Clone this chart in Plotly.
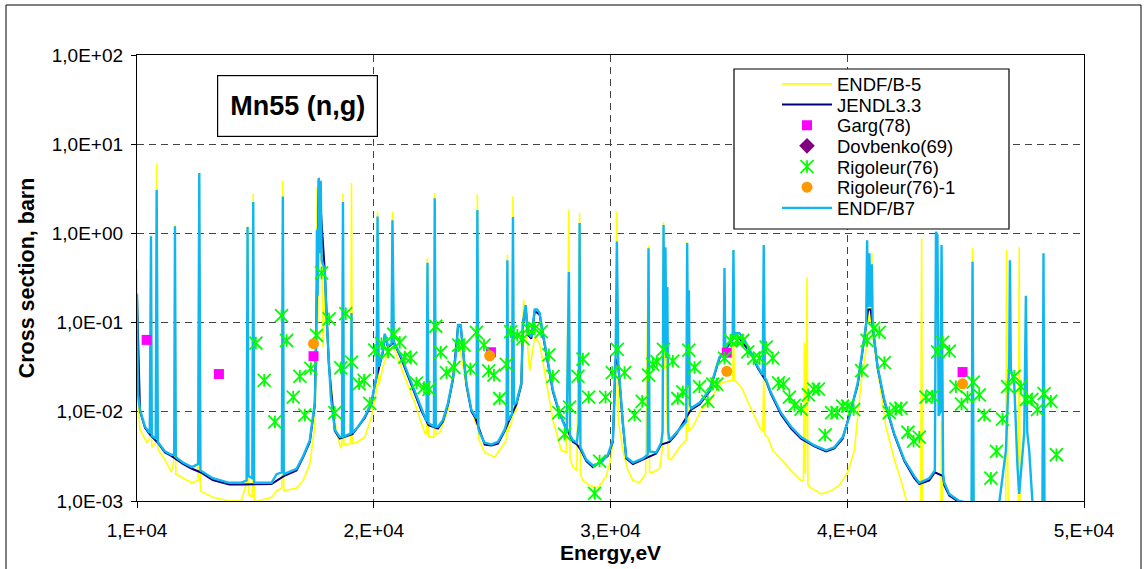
import plotly.graph_objects as go

# ---------------------------------------------------------------------------
# Mn-55 radiative capture cross section, 10-50 keV (energy in eV, sigma in barn)
# ---------------------------------------------------------------------------

# ENDF/B-5 evaluation
e_b5 = [10000, 10040, 10127, 10420, 10548, 10591, 10625, 10790, 10831, 10880,
        11180, 11450, 11570, 11604, 11640, 11940, 12320, 12580, 12630, 12680,
        13200, 13900, 14400, 14630, 14670, 14710, 14870, 14910, 14950, 15680,
        15900, 16120, 16160, 16200, 16740, 17020, 17300, 17510, 17570, 17610,
        17640, 17680, 17710, 17760, 17800, 17860, 17934, 18073, 18217, 18427,
        18609, 18660, 18700, 18740, 19020, 19060, 19100, 19270, 19622, 19904,
        20115, 20160, 20210, 20390, 20600, 20750, 20790, 20850, 21310, 21732,
        22154, 22230, 22270, 22310, 22540, 22576, 22620, 22787, 23137, 23419,
        23559, 23702, 23983, 24265, 24340, 24377, 24420, 24686, 25108, 25530,
        25610, 25644, 25680, 25840, 25880, 25920, 26023, 26234, 26331, 26585,
        26796, 27007, 27289, 27568, 27920, 28133, 28243, 28290, 28412, 28580,
        28695, 28730, 28836, 29117, 29469, 29821, 30032, 30215, 30270, 30330,
        30520, 30735, 30945, 31227, 31480, 31606, 31650, 31788, 32071, 32200,
        32240, 32280, 32330, 32380, 32440, 32563, 32915, 33197, 33239, 33280,
        33478, 33830, 34181, 34392, 34673, 35166, 35193, 35230, 35517, 35941,
        36290, 36430, 36473, 36520, 36642, 36853, 37207, 37629, 38051, 38150,
        38190, 38230, 38300, 38340, 38471, 38893, 39315, 39667, 40019, 40301,
        40582, 40793, 40838, 40880, 40935, 40990, 41040, 41074, 41144, 41355,
        41637, 41990, 42270, 42551, 43100, 43141, 43180, 43950, 43984, 44040,
        45250, 45292, 45340, 46690, 46729, 46770, 46800, 47220, 47263, 47300,
        48200, 48245, 48290, 48600]
xs_b5 = [0.39, 0.0136, 0.0063, 0.0045, 0.0052, 0.95, 0.004, 0.0045, 6.0, 0.0038,
         0.0029, 0.0021, 0.003, 1.26, 0.002, 0.0018, 0.0016, 0.0017, 4.75, 0.0013,
         0.0011, 0.001, 0.001, 0.0016, 1.2, 0.0012, 0.0011, 2.77, 0.00097, 0.0011,
         0.0013, 0.0014, 3.9, 0.0013, 0.0014, 0.0017, 0.0026, 0.0068, 0.03, 3.3,
         0.1, 4.0, 0.4, 3.3, 0.3, 0.053, 0.23, 0.049, 0.0175, 0.0058,
         0.0039, 0.0042, 2.8, 0.0043, 0.0044, 3.67, 0.0044, 0.0045, 0.0052, 0.0088,
         0.0175, 1.74, 0.02, 0.032, 0.046, 0.05, 1.74, 0.052, 0.0245, 0.0126,
         0.0058, 0.0056, 0.53, 0.0053, 0.0052, 2.84, 0.0056, 0.0058, 0.0105, 0.035,
         0.069, 0.041, 0.0147, 0.0081, 0.007, 2.74, 0.005, 0.0035, 0.0031, 0.0045,
         0.005, 0.58, 0.006, 0.008, 2.6, 0.0095, 0.0105, 0.0245, 0.18, 0.029,
         0.069, 0.059, 0.0228, 0.0081, 0.0037, 0.0035, 1.83, 0.003, 0.0024, 0.0022,
         1.68, 0.002, 0.0017, 0.0015, 0.0014, 0.0019, 0.0031, 0.012, 1.75, 0.008,
         0.0037, 0.0022, 0.0017, 0.0016, 0.002, 0.72, 0.0021, 0.0021, 0.0023, 0.004,
         1.33, 0.03, 0.42, 0.01, 0.003, 0.0029, 0.004, 0.0048, 0.8, 0.006,
         0.0068, 0.0105, 0.0126, 0.0163, 0.021, 0.0228, 0.08, 0.0228, 0.019, 0.011,
         0.0068, 0.006, 0.0245, 0.0055, 0.0052, 0.0037, 0.0029, 0.0022, 0.0017, 0.0017,
         0.06, 0.002, 0.32, 0.0015, 0.0014, 0.0012, 0.0013, 0.0015, 0.0021, 0.0037,
         0.021, 0.049, 0.6, 0.1, 0.4, 0.1, 0.6, 0.08, 0.053, 0.021,
         0.0068, 0.0029, 0.0017, 0.0009, 0.0005, 0.88, 0.0005, 0.0005, 0.008, 0.0005,
         0.0005, 0.68, 0.0005, 0.0005, 0.65, 0.005, 0.0009, 0.0005, 0.70, 0.0005,
         0.0005, 0.0088, 0.0005, 0.0004]

# JENDL-3.3 evaluation (smooth part between resonances)
e_jendl = [10000, 10127, 10338, 10540, 10880, 11180, 11450, 11940, 12320, 12680,
           13200, 13900, 14400, 14950, 15680, 16200, 16740, 17020, 17300, 17510,
           17680, 17934, 18102, 18356, 18567, 19100, 19620, 19900, 20040, 20390,
           20466, 20600, 20850, 21170, 21590, 22010, 22310, 22715, 22926, 23137,
           23348, 23560, 23673, 23913, 24124, 24293, 24686, 24969, 25247, 25530,
           26023, 26234, 26300, 26416, 26513, 26656, 26800, 27007, 27146, 27357,
           27568, 27851, 28412, 28580, 28730, 28978, 29257, 29890, 30101, 30215,
           30330, 30523, 30666, 30945, 31931, 32142, 32493, 32775, 33408, 33759,
           34181, 34603, 35307, 35941, 36219, 36574, 36785, 37207, 37629, 38051,
           38613, 39107, 39456, 39808, 40441, 40724, 40880, 40990, 41144, 41283,
           41566, 41988, 42410, 42832, 43043, 43465, 43700, 44050, 44098, 44309,
           44731]
xs_jendl = [0.2, 0.0102, 0.0066, 0.0056, 0.0045, 0.0035, 0.0032, 0.0026, 0.0023, 0.0021,
            0.00172, 0.00153, 0.00153, 0.00155, 0.00155, 0.0019, 0.0022, 0.0031, 0.0046, 0.012,
            4.0, 0.37, 0.034, 0.0061, 0.005, 0.0056, 0.0085, 0.0122, 0.02, 0.047,
            0.072, 0.053, 0.06, 0.039, 0.0198, 0.0103, 0.0071, 0.0065, 0.0078, 0.0121,
            0.023, 0.091, 0.091, 0.02, 0.0101, 0.0085, 0.0043, 0.0042, 0.0044, 0.0061,
            0.0121, 0.02, 0.095, 0.15, 0.073, 0.066, 0.135, 0.123, 0.073, 0.034,
            0.0168, 0.0094, 0.0046, 0.0043, 0.0038, 0.0028, 0.0024, 0.0032, 0.0046, 0.039,
            0.033, 0.0072, 0.003, 0.0026, 0.0034, 0.0043, 0.0046, 0.0056, 0.0106, 0.0121,
            0.0169, 0.04, 0.074, 0.045, 0.031, 0.022, 0.0157, 0.0093, 0.0065, 0.005,
            0.0041, 0.0036, 0.0039, 0.005, 0.02, 0.067, 0.14, 0.14, 0.062, 0.031,
            0.0131, 0.0055, 0.0028, 0.0018, 0.00155, 0.0017, 0.0021, 0.0019, 0.0015, 0.00115,
            0.00097]

# ENDF/B-VII evaluation
e_b7 = [10000, 10040, 10127, 10338, 10540, 10591, 10625, 10790, 10831, 10880,
        11180, 11450, 11570, 11604, 11640, 11940, 12320, 12580, 12630, 12680,
        13200, 13900, 14400, 14630, 14670, 14710, 14870, 14910, 14950, 15680,
        15900, 16120, 16160, 16200, 16740, 17020, 17300, 17510, 17570, 17600,
        17630, 17680, 17710, 17760, 17800, 17860, 17934, 18005, 18102, 18187,
        18356, 18567, 18660, 18700, 18740, 19020, 19060, 19100, 19340, 19620,
        19900, 20040, 20120, 20160, 20210, 20390, 20466, 20600, 20750, 20790,
        20850, 21170, 21590, 22010, 22230, 22270, 22310, 22540, 22576, 22620,
        22715, 22926, 23137, 23348, 23492, 23560, 23673, 23770, 23913, 24124,
        24293, 24340, 24377, 24420, 24475, 24686, 24969, 25247, 25530, 25610,
        25644, 25680, 25840, 25880, 25920, 26023, 26234, 26300, 26416, 26513,
        26656, 26800, 26900, 27007, 27146, 27357, 27568, 27851, 28150, 28243,
        28290, 28412, 28580, 28665, 28695, 28730, 28978, 29257, 29611, 29890,
        30101, 30215, 30270, 30330, 30523, 30666, 30945, 31367, 31570, 31606,
        31650, 31931, 32142, 32200, 32240, 32280, 32320, 32360, 32400, 32440,
        32493, 32775, 33126, 33200, 33239, 33280, 33310, 33350, 33408, 33759,
        34181, 34603, 34780, 34814, 34850, 34953, 35160, 35193, 35230, 35307,
        35447, 35658, 35941, 36219, 36430, 36473, 36520, 36574, 36785, 37207,
        37629, 38051, 38613, 39107, 39456, 39808, 40091, 40441, 40724, 40800,
        40838, 40880, 40935, 40990, 41040, 41074, 41144, 41283, 41566, 41988,
        42410, 42832, 43043, 43465, 43700, 43748, 43810, 43860, 43930, 43984,
        44050, 44098, 44309, 44731, 45153, 45250, 45292, 45340, 46419, 46702,
        46841, 46871, 46910, 47052, 47191, 47263, 47474, 47546, 47600, 47685,
        47825, 48179, 48250, 48289, 48330, 48390, 48600]
xs_b7 = [0.21, 0.016, 0.0105, 0.0068, 0.0058, 0.93, 0.0054, 0.005, 3.07, 0.0046,
         0.0036, 0.0033, 0.0033, 1.2, 0.0031, 0.0027, 0.0024, 0.0026, 4.75, 0.0022,
         0.0018, 0.0016, 0.0016, 0.0017, 1.18, 0.0019, 0.0018, 2.25, 0.0016, 0.0016,
         0.002, 0.0021, 2.6, 0.002, 0.0023, 0.0032, 0.0048, 0.0127, 0.06, 1.1,
         0.2, 4.2, 0.6, 3.9, 0.5, 0.45, 0.39, 0.116, 0.035, 0.0147,
         0.0063, 0.0052, 0.0052, 2.25, 0.0053, 0.0057, 0.128, 0.0058, 0.0068, 0.0088,
         0.0126, 0.021, 0.025, 1.55, 0.032, 0.049, 0.075, 0.055, 0.058, 1.4,
         0.061, 0.041, 0.021, 0.011, 0.0078, 0.47, 0.0075, 0.0068, 2.47, 0.0068,
         0.0068, 0.0081, 0.0126, 0.024, 0.049, 0.094, 0.094, 0.049, 0.021, 0.0105,
         0.0088, 0.0085, 1.83, 0.0065, 0.0058, 0.0045, 0.0043, 0.0046, 0.0063, 0.0075,
         0.5, 0.008, 0.0095, 1.53, 0.012, 0.0126, 0.021, 0.099, 0.157, 0.076,
         0.069, 0.14, 0.14, 0.128, 0.076, 0.035, 0.0175, 0.0097, 0.006, 0.37,
         0.0055, 0.0048, 0.0045, 0.0075, 1.31, 0.004, 0.0029, 0.0025, 0.0027, 0.0033,
         0.0048, 0.041, 0.81, 0.035, 0.0075, 0.0031, 0.0027, 0.003, 0.0033, 0.68,
         0.0036, 0.0035, 0.0045, 0.006, 1.24, 0.05, 0.7, 0.04, 0.25, 0.006,
         0.0048, 0.0058, 0.0075, 0.0078, 0.78, 0.02, 0.23, 0.012, 0.011, 0.0126,
         0.0175, 0.041, 0.045, 0.41, 0.05, 0.058, 0.065, 0.65, 0.07, 0.076,
         0.076, 0.064, 0.046, 0.032, 0.026, 0.74, 0.024, 0.0228, 0.0163, 0.0097,
         0.0068, 0.0052, 0.0042, 0.0037, 0.004, 0.0052, 0.0088, 0.021, 0.069, 0.1,
         0.84, 0.15, 0.6, 0.15, 0.45, 0.1, 0.064, 0.032, 0.0136, 0.0057,
         0.0029, 0.0019, 0.0016, 0.0018, 0.0022, 1.04, 0.95, 0.009, 0.01, 0.74,
         0.002, 0.0016, 0.0012, 0.001, 0.00095, 0.0009, 0.48, 0.0009, 0.00095, 0.0037,
         0.035, 0.5, 0.03, 0.021, 0.0024, 0.0012, 0.0058, 0.2, 0.006, 0.0037,
         0.00095, 0.00095, 0.001, 0.6, 0.001, 0.0008, 0.0005]

# Garg (1978)
e_garg = [10408, 13460, 17457, 24950, 34912, 44870]
xs_garg = [0.064, 0.0265, 0.042, 0.0465, 0.046, 0.0279]

# Dovbenko (1969): no measured point falls inside 10-50 keV
e_dovbenko = [None]
xs_dovbenko = [None]

# Rigoleur (1976)
e_rig = [15022, 15372, 15824, 16106, 16317, 16597, 16879, 17090, 17343, 17583,
         17794, 18115, 18356, 18609, 18820, 19060, 19381, 19592, 19833, 20044,
         20326, 20605, 20845, 21099, 21310, 21563, 21803, 22124, 22335, 22618,
         22829, 23070, 23390, 23588, 23812, 24082, 24335, 24656, 24854, 25078,
         25319, 25601, 25783, 26065, 26302, 26513, 26796, 27078, 27399, 27568,
         27821, 28062, 28273, 28623, 28835, 29074, 29328, 29539, 29792, 30075,
         30286, 30594, 31016, 31340, 31606, 31788, 31957, 32239, 32632, 32843,
         33055, 33308, 33548, 33759, 34110, 34321, 34490, 34814, 35067, 35349,
         35586, 35797, 36051, 36291, 36574, 36853, 37094, 37303, 37557, 37768,
         38051, 38358, 38582, 38780, 39063, 39343, 39569, 39808, 40019, 40272,
         40610, 40838, 41116, 41355, 41566, 41777, 42059, 42270, 42560, 42800,
         43043, 43325, 43605, 43816, 44027, 44309, 44591, 44828, 45081, 45321,
         45575, 45786, 46068, 46305, 46558, 46771, 47052, 47334, 47571, 47797,
         48033, 48316, 48599, 48835]
xs_rig = [0.059, 0.0225, 0.0077, 0.12, 0.063, 0.0146, 0.025, 0.0092, 0.0306, 0.072,
          0.36, 0.11, 0.0098, 0.031, 0.126, 0.036, 0.0206, 0.0225, 0.0124, 0.049,
          0.058, 0.047, 0.074, 0.06, 0.041, 0.04, 0.021, 0.0187, 0.0178, 0.091,
          0.0465, 0.0275, 0.0314, 0.056, 0.056, 0.0302, 0.0775, 0.056, 0.0287, 0.0258,
          0.0141, 0.034, 0.079, 0.072, 0.066, 0.086, 0.086, 0.079, 0.0435, 0.025,
          0.0098, 0.0056, 0.0113, 0.025, 0.039, 0.0146, 0.00122, 0.0028, 0.0146, 0.0275,
          0.05, 0.0275, 0.0092, 0.0131, 0.0258, 0.034, 0.0365, 0.05, 0.037, 0.0141,
          0.0167, 0.049, 0.0314, 0.0191, 0.0131, 0.0204, 0.0204, 0.04, 0.063, 0.063,
          0.063, 0.047, 0.04, 0.04, 0.053, 0.04, 0.0211, 0.0204, 0.0146, 0.0118,
          0.0107, 0.0155, 0.018, 0.018, 0.0055, 0.0098, 0.0098, 0.0116, 0.0116, 0.0106,
          0.029, 0.063, 0.086, 0.0775, 0.0355, 0.0098, 0.0107, 0.011, 0.0059, 0.0047,
          0.0052, 0.0146, 0.015, 0.047, 0.06, 0.048, 0.0191, 0.0122, 0.0146, 0.0215,
          0.0155, 0.0092, 0.0018, 0.0036, 0.0083, 0.0191, 0.025, 0.0191, 0.0138, 0.0138,
          0.0106, 0.016, 0.0131, 0.0033]

# Rigoleur (1976), averaged set
e_rig1 = [17457, 24897, 34912, 44870]
xs_rig1 = [0.058, 0.0425, 0.0284, 0.0206]

# Axis ticks
x_ticks = [10000, 20000, 30000, 40000, 50000]
x_ticktext = ["1,E+04", "2,E+04", "3,E+04", "4,E+04", "5,E+04"]
y_ticks = [1e-3, 1e-2, 1e-1, 1e0, 1e1, 1e2]
y_ticktext = ["1,0E-03", "1,0E-02", "1,0E-01", "1,0E+00", "1,0E+01", "1,0E+02"]

FONT = "Arial, Liberation Sans, sans-serif"
W, H = 1147, 569
ML, MR, MT, MB = 137, 63, 55, 68
PW, PH = W - ML - MR, H - MT - MB


def px_x(px):
    """Pixel column -> paper x."""
    return (px - ML) / PW


def px_y(py):
    """Pixel row -> paper y."""
    return (H - MB - py) / PH


fig = go.Figure()

# Evaluated curves
fig.add_trace(go.Scatter(x=e_b5, y=xs_b5, mode="lines", name="ENDF/B-5",
                         line=dict(color="#FFFF00", width=1.6), legend="legend"))
fig.add_trace(go.Scatter(x=e_jendl, y=xs_jendl, mode="lines", name="JENDL3.3",
                         line=dict(color="#000080", width=2), legend="legend2"))
fig.add_trace(go.Scatter(x=e_b7, y=xs_b7, mode="lines", name="ENDF/B7",
                         line=dict(color="#12B6EE", width=2.4), legend="legend7"))

# Measurements
fig.add_trace(go.Scatter(x=e_garg, y=xs_garg, mode="markers", name="Garg(78)",
                         marker=dict(symbol="square", size=10, color="#FF00FF"),
                         legend="legend3"))
fig.add_trace(go.Scatter(x=e_dovbenko, y=xs_dovbenko, mode="markers", name="Dovbenko(69)",
                         marker=dict(symbol="diamond", size=12, color="#800080"),
                         legend="legend4"))
fig.add_trace(go.Scatter(x=e_rig, y=xs_rig, mode="markers", name="Rigoleur(76)",
                         marker=dict(symbol="x-thin-open", size=13, color="#00FF00",
                                     line=dict(width=1.8, color="#00FF00")),
                         legend="legend5"))
fig.add_trace(go.Scatter(x=e_rig, y=xs_rig, mode="markers", name="",
                         marker=dict(symbol="line-ns-open", size=9, color="#00FF00",
                                     line=dict(width=1.8, color="#00FF00")),
                         legend="legend8"))
fig.add_trace(go.Scatter(x=e_rig1, y=xs_rig1, mode="markers", name="Rigoleur(76)-1",
                         marker=dict(symbol="circle", size=11, color="#FF9900"),
                         legend="legend6"))

# One legend per entry so that the rows sit tightly like the boxed key
row_py = [84.3, 105.0, 125.6, 146.3, 167.0, 187.6, 208.3]
legend_names = ["legend", "legend2", "legend3", "legend4", "legend5", "legend6", "legend7"]
leg_x = px_x(777)
legends = {}
for name, py in zip(legend_names, row_py):
    legends[name] = dict(x=leg_x, y=px_y(py), xanchor="left", yanchor="middle",
                         bgcolor="rgba(0,0,0,0)", borderwidth=0, itemwidth=50,
                         font=dict(family=FONT, size=18.5, color="black"),
                         itemclick=False, itemdoubleclick=False)
legends["legend8"] = dict(legends["legend5"])

grid_dash = "7px,5px"
fig.update_layout(
    width=W, height=H,
    margin=dict(l=ML, r=MR, t=MT, b=MB),
    paper_bgcolor="white", plot_bgcolor="white",
    font=dict(family=FONT, size=19, color="black"),
    showlegend=True,
    xaxis=dict(range=[10000, 50000], tickvals=x_ticks, ticktext=x_ticktext,
               showgrid=True, gridcolor="#444444", gridwidth=1, griddash=grid_dash,
               showline=True, linecolor="black", linewidth=1.3, mirror=True,
               ticks="outside", ticklen=6, tickcolor="black", zeroline=False,
               tickfont=dict(family=FONT, size=19), ticklabelstandoff=6,
               title=dict(text="<b>Energy,eV</b>", font=dict(family=FONT, size=21),
                          standoff=0)),
    yaxis=dict(type="log", range=[-3, 2], tickvals=y_ticks, ticktext=y_ticktext,
               showgrid=True, gridcolor="#444444", gridwidth=1, griddash=grid_dash,
               showline=True, linecolor="black", linewidth=1.3, mirror=True,
               ticks="outside", ticklen=5, tickcolor="black", zeroline=False,
               tickfont=dict(family=FONT, size=19), ticklabelstandoff=4,
               title=dict(text="<b>Cross section, barn</b>", font=dict(family=FONT, size=21.5),
                          standoff=11)),
    shapes=[
        # boxed key
        dict(type="rect", xref="paper", yref="paper",
             x0=px_x(734), x1=px_x(1009), y0=px_y(229), y1=px_y(69),
             line=dict(color="black", width=1.2), fillcolor="white", layer="above"),
        # chart frame
        dict(type="rect", xref="paper", yref="paper",
             x0=px_x(6), x1=px_x(1141), y0=px_y(580), y1=px_y(5),
             line=dict(color="black", width=1), fillcolor="rgba(0,0,0,0)", layer="above"),
    ],
    annotations=[
        dict(text="<b>Mn55 (n,g)</b>", xref="paper", yref="paper",
             x=px_x(297.5), y=px_y(106), xanchor="center", yanchor="middle",
             showarrow=False, width=157, height=58,
             font=dict(family=FONT, size=27, color="black"),
             bgcolor="white", bordercolor="black", borderwidth=1.2),
    ],
    **legends,
)

fig.write_html("out.html", config={"displayModeBar": False})
